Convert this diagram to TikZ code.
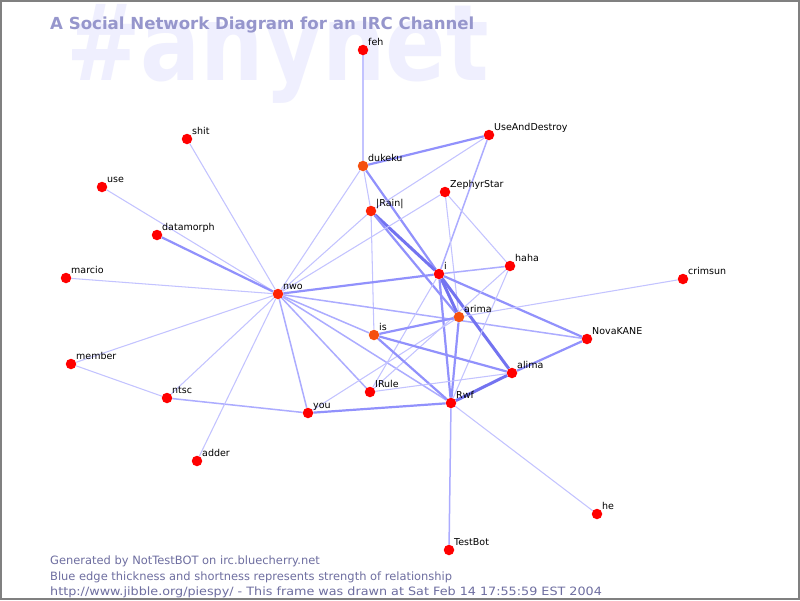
\documentclass[tikz,border=0pt]{standalone}
\usepackage{fontspec}
\setmainfont{DejaVu Sans}
\definecolor{nred}{RGB}{255,0,0}
\definecolor{norange}{RGB}{245,80,15}
\definecolor{nmid}{RGB}{255,35,5}
\definecolor{ea}{RGB}{195,195,255}
\definecolor{eb}{RGB}{172,172,255}
\definecolor{ec}{RGB}{145,145,252}
\definecolor{ed}{RGB}{115,115,240}
\definecolor{ttl}{RGB}{150,150,204}
\definecolor{wm}{RGB}{239,239,254}
\definecolor{foot}{RGB}{110,110,160}
\definecolor{frame}{RGB}{128,128,128}
\pgfdeclarelayer{wmlayer}
\pgfdeclarelayer{edgelayer}
\pgfsetlayers{wmlayer,edgelayer,main}
\tikzset{
  dot/.style={circle, inner sep=0pt, minimum size=10.5pt, fill=nred, draw=none},
  lbl/.style={anchor=base west, inner sep=0pt, font=\fontsize{9.5}{11}\selectfont, text=black},
  wa/.style={draw=ea, line width=1.05pt},
  wb/.style={draw=eb, line width=1.5pt},
  wc/.style={draw=ec, line width=2.2pt},
  wd/.style={draw=ed, line width=3pt},
  foottext/.style={anchor=base west, inner sep=0pt, text=foot, font=\fontsize{11.45}{13}\selectfont},
}
\newcommand\pnode[4]{%
  \node[dot, fill=#4] (#1) at (#2) {};
  \node[lbl] (#1-l) at ([xshift=5pt,yshift=5pt]#1.center) {#3};
}
\begin{document}
\begin{tikzpicture}[x=1pt,y=-1pt]
\useasboundingbox (0,0) rectangle (800,600);
\begin{pgfonlayer}{wmlayer}
\fill[white] (0,0) rectangle (800,600);
\node[anchor=base west, inner sep=0pt, text=wm, font=\bfseries\fontsize{106}{106}\selectfont] (wmark) at (66,80) {\scalebox{0.84}[1]{\#anynet}};
\end{pgfonlayer}
\node[anchor=base west, inner sep=0pt, text=ttl, font=\bfseries\fontsize{16.6}{18}\selectfont] (title) at (50,29) {A Social Network Diagram for an IRC Channel};

\pnode{feh}{363,50}{feh}{nred}
\pnode{UseAndDestroy}{489,135}{UseAndDestroy}{nred}
\pnode{dukeku}{363,166}{dukeku}{norange}
\pnode{ZephyrStar}{445,192}{ZephyrStar}{nred}
\pnode{rain}{371,211}{|Rain|}{nmid}
\pnode{shit}{187,139}{shit}{nred}
\pnode{use}{102,187}{use}{nred}
\pnode{datamorph}{157,235}{datamorph}{nred}
\pnode{marcio}{66,278}{marcio}{nred}
\pnode{nwo}{278,294}{nwo}{nmid}
\pnode{i}{439,274}{i}{nred}
\pnode{haha}{510,266}{haha}{nred}
\pnode{crimsun}{683,279}{crimsun}{nred}
\pnode{arima}{459,317}{arima}{norange}
\pnode{is}{374,335}{is}{norange}
\pnode{NovaKANE}{587,339}{NovaKANE}{nred}
\pnode{alima}{512,373}{alima}{nred}
\pnode{member}{71,364}{member}{nred}
\pnode{ntsc}{167,398}{ntsc}{nred}
\pnode{IRule}{370,392}{IRule}{nred}
\pnode{Rwf}{451,403}{Rwf}{nred}
\pnode{you}{308,413}{you}{nred}
\pnode{adder}{197,461}{adder}{nred}
\pnode{he}{597,514}{he}{nred}
\pnode{TestBot}{449,550}{TestBot}{nred}

\begin{pgfonlayer}{edgelayer}
\draw[wa] (feh) -- (dukeku);
\draw[wc] (dukeku) -- (UseAndDestroy);
\draw[wa] (dukeku) -- (nwo);
\draw[wa] (dukeku) -- (rain);
\draw[wc] (dukeku) -- (i);
\draw[wa] (UseAndDestroy) -- (rain);
\draw[wb] (UseAndDestroy) -- (i);
\draw[wa] (rain) -- (nwo);
\draw[wa] (rain) -- (is);
\draw[wd] (rain) -- (i);
\draw[wc] (rain) -- (arima);
\draw[wa] (ZephyrStar) -- (nwo);
\draw[wa] (ZephyrStar) -- (haha);
\draw[wa] (ZephyrStar) -- (arima);
\draw[wa] (shit) -- (nwo);
\draw[wa] (use) -- (nwo);
\draw[wc] (datamorph) -- (nwo);
\draw[wa] (marcio) -- (nwo);
\draw[wa] (member) -- (nwo);
\draw[wa] (member) -- (ntsc);
\draw[wa] (ntsc) -- (nwo);
\draw[wb] (ntsc) -- (you);
\draw[wa] (adder) -- (nwo);
\draw[wb] (you) -- (nwo);
\draw[wc] (nwo) -- (i);
\draw[wb] (nwo) -- (NovaKANE);
\draw[wb] (nwo) -- (is);
\draw[wb] (nwo) -- (IRule);
\draw[wb] (nwo) -- (Rwf);
\draw[wb] (i) -- (haha);
\draw[wc] (i) -- (NovaKANE);
\draw[wd] (i) -- (arima);
\draw[wd] (i) -- (alima);
\draw[wc] (i) -- (Rwf);
\draw[wa] (i) -- (IRule);
\draw[wa] (haha) -- (IRule);
\draw[wa] (haha) -- (Rwf);
\draw[wa] (crimsun) -- (arima);
\draw[wc] (arima) -- (is);
\draw[wc] (arima) -- (Rwf);
\draw[wa] (arima) -- (you);
\draw[wc] (is) -- (alima);
\draw[wc] (is) -- (Rwf);
\draw[wc] (alima) -- (NovaKANE);
\draw[wd] (alima) -- (Rwf);
\draw[wa] (alima) -- (IRule);
\draw[wc] (Rwf) -- (you);
\draw[wb] (Rwf) -- (TestBot);
\draw[wa] (Rwf) -- (he);
\end{pgfonlayer}

\node[foottext] (f1) at (50,564) {Generated by NotTestBOT on irc.bluecherry.net};
\node[foottext] (f2) at (50,580) {Blue edge thickness and shortness represents strength of relationship};
\node[foottext] (f3) at (50,595) {\scalebox{1.115}[1]{http://www.jibble.org/piespy/ - This frame was drawn at Sat Feb 14 17:55:59 EST 2004}};
\draw[frame, line width=2pt] (1,1) rectangle (799,599);
\end{tikzpicture}
\end{document}
